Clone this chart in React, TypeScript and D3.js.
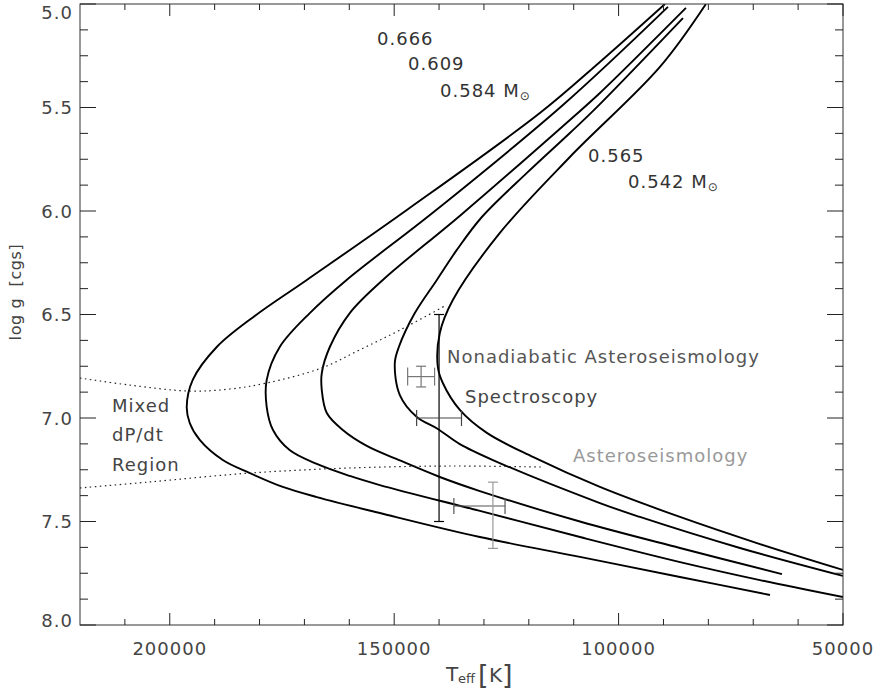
import React from "react";
import * as d3 from "d3";

// ---- data (Teff [K], log g) ----
const track0666: [number, number][] = [[89670,5.00],[104160,5.28],[117540,5.527],[147180,5.995],[169470,6.333],[181060,6.507],[189530,6.657],[194880,6.816],[196220,6.947],[195550,7.024],[193320,7.106],[188190,7.203],[182170,7.266],[174820,7.333],[167240,7.382],[153200,7.459],[130910,7.575],[108620,7.671],[86330,7.768],[66270,7.855]];
const track0609: [number, number][] = [[89000,5.014],[112400,5.488],[141200,6.005],[160600,6.333],[168800,6.493],[175500,6.657],[178400,6.816],[178400,6.947],[177000,7.058],[173300,7.155],[167240,7.222],[159890,7.280],[153200,7.324],[130900,7.449],[108600,7.575],[86300,7.696],[68500,7.783],[50000,7.865]];
const track0584: [number, number][] = [[84990,5.019],[104160,5.430],[110850,5.560],[135140,6.019],[152530,6.333],[159890,6.493],[164340,6.657],[166130,6.783],[166130,6.865],[165010,6.976],[161450,7.058],[156100,7.135],[148740,7.205],[139830,7.285],[130910,7.353],[108620,7.500],[86330,7.628],[63600,7.754]];
const track0565: [number, number][] = [[85660,5.068],[104830,5.498],[110850,5.623],[120430,5.816],[130460,6.029],[136040,6.188],[140490,6.333],[145400,6.493],[148960,6.657],[149860,6.734],[148740,6.889],[144950,6.995],[140270,7.053],[135370,7.126],[128010,7.203],[104160,7.411],[95250,7.478],[72960,7.628],[50000,7.763]];
const track0542: [number, number][] = [[80540,5.0],[90790,5.304],[110850,5.739],[126450,6.106],[136930,6.430],[139830,6.589],[140270,6.754],[139160,6.831],[135370,6.961],[129350,7.072],[119100,7.188],[104160,7.333],[86330,7.478],[68500,7.609],[50000,7.734]];

const upperBoundary: [number, number][] = [[220000,6.807],[208900,6.841],[195500,6.870],[186600,6.860],[178400,6.831],[166100,6.758],[157700,6.671],[148700,6.575],[138300,6.454]];
const lowerBoundary: [number, number][] = [[220000,7.338],[204500,7.309],[182200,7.266],[160600,7.242],[137600,7.232],[116900,7.237]];

// error bars
const spectroscopy = { teff: 140000, teffErr: 5000, logg: 7.0, loggErr: 0.5 };
const nonadiabatic = { teff: 144000, teffErr: 3000, logg: 6.8, loggErr: 0.05 };
const asteroH = { teff: 131000, teffErr: 5700, logg: 7.425 };
const asteroV = { teff: 128000, logg: 7.47, loggErr: 0.16 };

const xMajor = [200000, 150000, 100000, 50000];
const xMinor = [210000, 190000, 180000, 170000, 160000, 140000, 130000, 120000, 110000, 90000, 80000, 70000, 60000];
const yMajor = [5.0, 5.5, 6.0, 6.5, 7.0, 7.5, 8.0];
const yMinor = [5.125, 5.25, 5.375, 5.625, 5.75, 5.875, 6.125, 6.25, 6.375, 6.625, 6.75, 6.875, 7.125, 7.25, 7.375, 7.625, 7.75, 7.875];

const L = 80, R = 843, T = 4, B = 625;
const FONT = "'DejaVu Sans', sans-serif";

export default function App() {
  const x = d3.scaleLinear().domain([220000, 50000]).range([L, R]);
  const y = d3.scaleLinear().domain([5, 8]).range([T, B]);
  const line = d3.line<[number, number]>().x(d => x(d[0])).y(d => y(d[1])).curve(d3.curveCatmullRom.alpha(0.5));
  const tracks = [track0666, track0609, track0584, track0565, track0542];
  const txt = { fontFamily: FONT, fontSize: 18, letterSpacing: 1 } as React.CSSProperties;

  const hbar = (t: number, e: number, g: number, color: string, cap: number, key: string) => (
    <g key={key} stroke={color} strokeWidth={1.2}>
      <line x1={x(t - e)} x2={x(t + e)} y1={y(g)} y2={y(g)} />
      <line x1={x(t - e)} x2={x(t - e)} y1={y(g) - cap} y2={y(g) + cap} />
      <line x1={x(t + e)} x2={x(t + e)} y1={y(g) - cap} y2={y(g) + cap} />
    </g>
  );
  const vbar = (t: number, g: number, e: number, color: string, cap: number, key: string) => (
    <g key={key} stroke={color} strokeWidth={1.2}>
      <line x1={x(t)} x2={x(t)} y1={y(g - e)} y2={y(g + e)} />
      <line x1={x(t) - cap} x2={x(t) + cap} y1={y(g - e)} y2={y(g - e)} />
      <line x1={x(t) - cap} x2={x(t) + cap} y1={y(g + e)} y2={y(g + e)} />
    </g>
  );

  return (
    <svg width={881} height={691} style={{ position: "absolute", left: 0, top: 0, background: "#fff" }}>
      <defs>
        <clipPath id="plot"><rect x={L} y={T} width={R - L} height={B - T} /></clipPath>
      </defs>
      <g clipPath="url(#plot)">
        {tracks.map((tr, i) => (
          <path key={i} d={line(tr) || ""} fill="none" stroke="#000" strokeWidth={1.9} />
        ))}
        {[upperBoundary, lowerBoundary].map((b, i) => (
          <path key={"b" + i} d={line(b) || ""} fill="none" stroke="#222" strokeWidth={1.2} strokeDasharray="1.5,3.5" />
        ))}
        {vbar(spectroscopy.teff, spectroscopy.logg, spectroscopy.loggErr, "#000", 5, "sv")}
        {hbar(spectroscopy.teff, spectroscopy.teffErr, spectroscopy.logg, "#444", 8, "sh")}
        {hbar(nonadiabatic.teff, nonadiabatic.teffErr, nonadiabatic.logg, "#777", 9, "nh")}
        {vbar(nonadiabatic.teff, nonadiabatic.logg, nonadiabatic.loggErr, "#777", 5, "nv")}
        {hbar(asteroH.teff, asteroH.teffErr, asteroH.logg, "#555", 8, "ah")}
        {vbar(asteroV.teff, asteroV.logg, asteroV.loggErr, "#999", 5, "av")}
      </g>

      {/* frame */}
      <rect x={L} y={T} width={R - L} height={B - T} fill="none" stroke="#333" strokeWidth={1} />
      {/* ticks */}
      <g stroke="#222" strokeWidth={1}>
        {xMajor.map(v => (
          <g key={"xM" + v}>
            <line x1={x(v)} x2={x(v)} y1={B} y2={B - 12} />
            <line x1={x(v)} x2={x(v)} y1={T} y2={T + 12} />
          </g>
        ))}
        {xMinor.map(v => (
          <g key={"xm" + v}>
            <line x1={x(v)} x2={x(v)} y1={B} y2={B - 6} />
            <line x1={x(v)} x2={x(v)} y1={T} y2={T + 6} />
          </g>
        ))}
        {yMajor.map(v => (
          <g key={"yM" + v}>
            <line x1={L} x2={L + 16} y1={y(v)} y2={y(v)} />
            <line x1={R} x2={R - 16} y1={y(v)} y2={y(v)} />
          </g>
        ))}
        {yMinor.map(v => (
          <g key={"ym" + v}>
            <line x1={L} x2={L + 8} y1={y(v)} y2={y(v)} />
            <line x1={R} x2={R - 8} y1={y(v)} y2={y(v)} />
          </g>
        ))}
      </g>
      {/* tick labels */}
      <g fill="#444" style={txt}>
        {yMajor.map(v => (
          <text key={"yl" + v} x={73} y={Math.min(Math.max(y(v), 12), 620)} textAnchor="end" dominantBaseline="central">
            {d3.format(".1f")(v)}
          </text>
        ))}
        {xMajor.map(v => (
          <text key={"xl" + v} x={x(v)} y={655} textAnchor="middle">{String(v)}</text>
        ))}
      </g>
      {/* axis titles */}
      <text transform="translate(21,292) rotate(-90)" textAnchor="middle" fill="#444"
        style={{ fontFamily: FONT, fontSize: 16, letterSpacing: 0.6 }} xmlSpace="preserve">log g  [cgs]</text>
      <g fill="#444" style={{ fontFamily: FONT }}>
        <text x={446} y={681} fontSize={20}>T</text>
        <text x={458} y={683} fontSize={13}>eff</text>
        <text x={478} y={684} fontSize={27}>[</text>
        <text x={489} y={682} fontSize={20}>K</text>
        <text x={502} y={684} fontSize={27}>]</text>
      </g>

      {/* mass labels */}
      <g fill="#333" style={txt}>
        <text x={377} y={45}>0.666</text>
        <text x={408} y={70}>0.609</text>
        <text x={440} y={97}>0.584 M<tspan fontSize={12} dy={3}>⊙</tspan></text>
        <text x={588} y={162}>0.565</text>
        <text x={628} y={188}>0.542 M<tspan fontSize={12} dy={3}>⊙</tspan></text>
      </g>
      {/* region labels */}
      <g style={txt}>
        <text x={447} y={363} fill="#555">Nonadiabatic Asteroseismology</text>
        <text x={465} y={403} fill="#444">Spectroscopy</text>
        <text x={573} y={462} fill="#999">Asteroseismology</text>
        <text x={112} y={412} fill="#444">Mixed</text>
        <text x={112} y={441} fill="#444">dP/dt</text>
        <text x={112} y={471} fill="#444">Region</text>
      </g>
    </svg>
  );
}
